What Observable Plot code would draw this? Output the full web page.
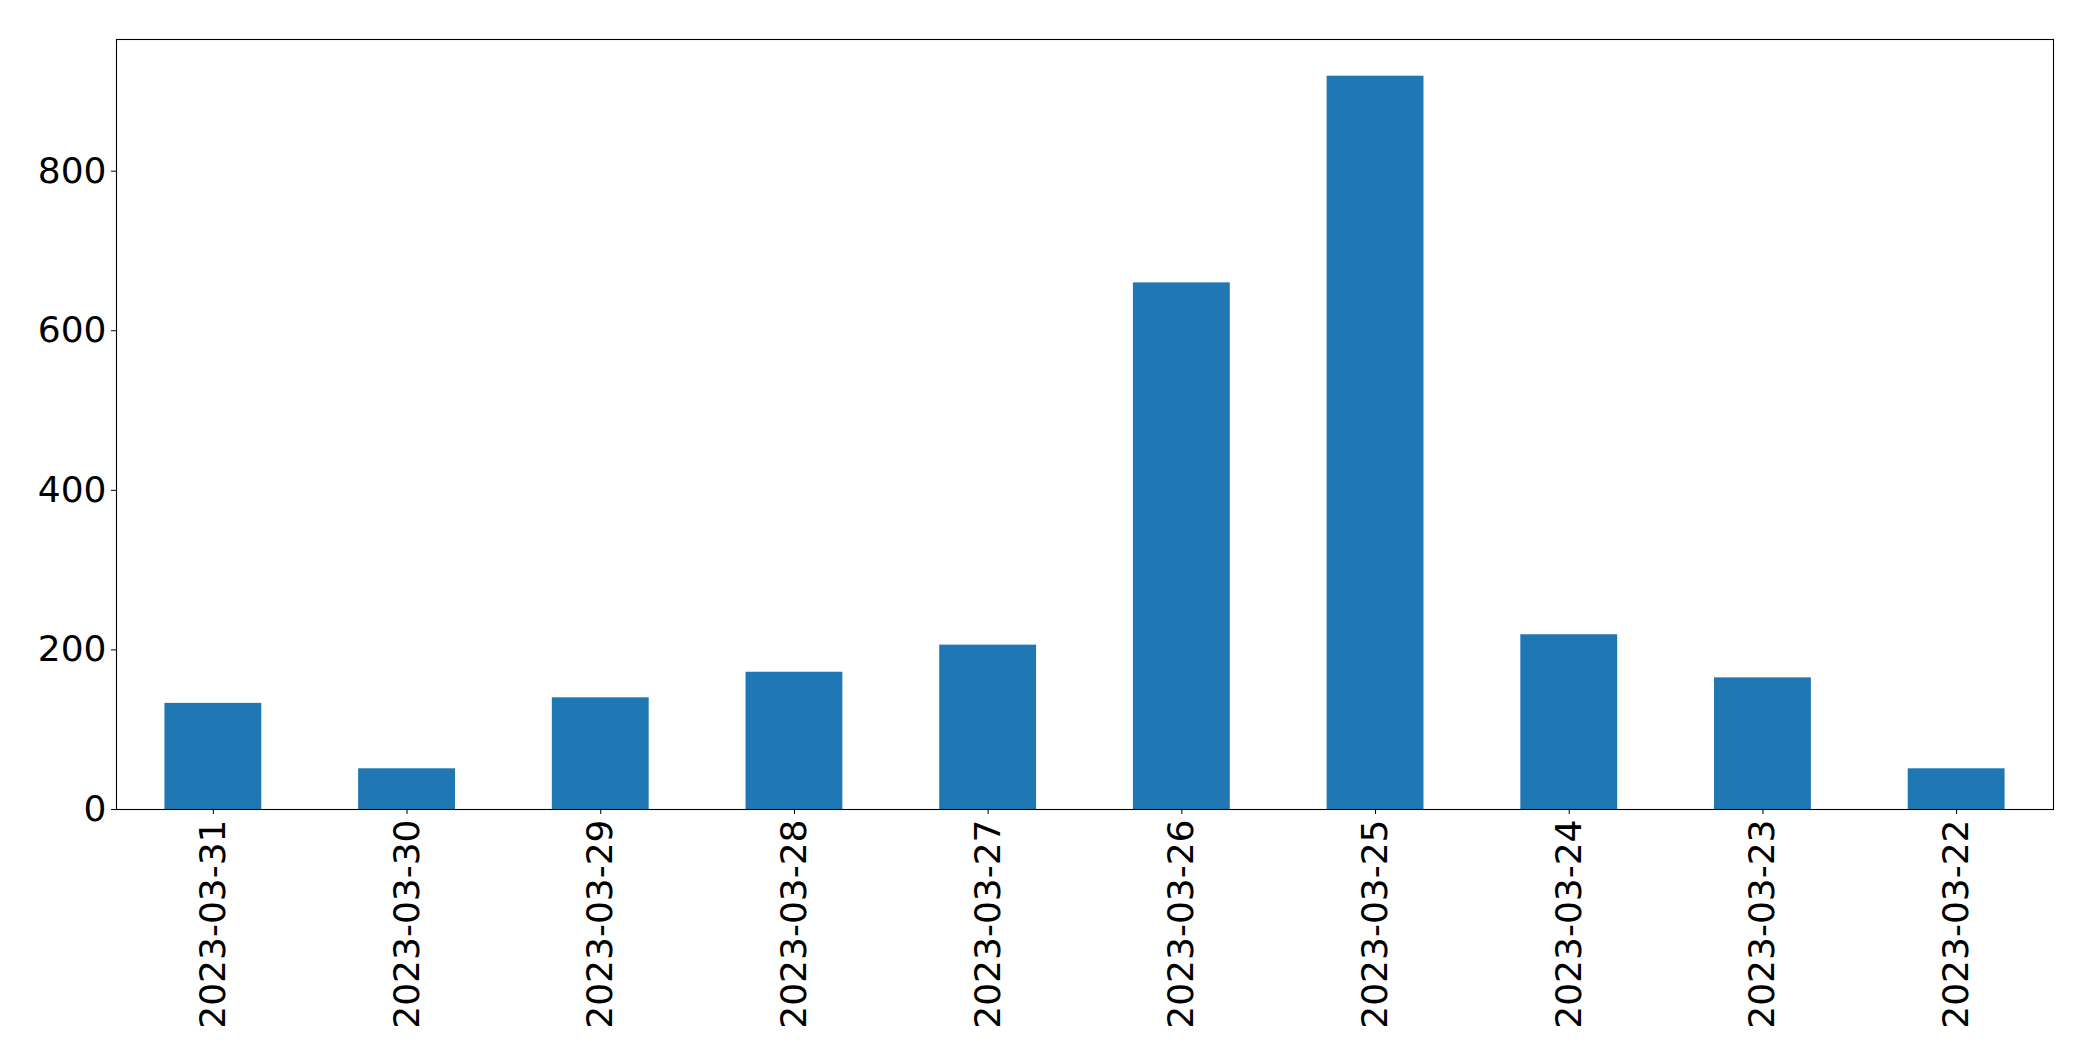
<!DOCTYPE html>
<html>
<head>
<meta charset="utf-8">
<script src="https://cdn.jsdelivr.net/npm/d3@7"></script>
<script src="https://cdn.jsdelivr.net/npm/@observablehq/plot@0.6"></script>
<style>
  html, body { margin: 0; padding: 0; background: white; }
  #chart svg { display: block; }
</style>
</head>
<body>
<div id="chart"></div>
<script>
const dates = ["2023-03-31", "2023-03-30", "2023-03-29", "2023-03-28", "2023-03-27",
               "2023-03-26", "2023-03-25", "2023-03-24", "2023-03-23", "2023-03-22"];
const counts = [133, 51, 140, 172, 206, 660, 919, 219, 165, 51];
const yTicks = [0, 200, 400, 600, 800];

const data = dates.map((d, i) => ({date: d, value: counts[i]}));

const chart = Plot.plot({
  width: 2093,
  height: 1061,
  marginLeft: 116,
  marginTop: 39,
  marginRight: 40,
  marginBottom: 252,
  style: {fontFamily: "'DejaVu Sans', sans-serif", fontSize: "36px", background: "white", color: "black"},
  x: {domain: dates, paddingInner: 0.5, paddingOuter: 0.25, round: false, label: null},
  y: {domain: [0, 965], label: null},
  marks: [
    Plot.barY(data, {x: "date", y: "value", fill: "#1f77b4"}),
    Plot.axisX({tickRotate: -90, tickSize: 5, tickPadding: 5, fontSize: 36, label: null, stroke: "black", fill: "black"}),
    Plot.axisY({ticks: yTicks, tickSize: 5, tickPadding: 5, fontSize: 36, label: null, stroke: "black", fill: "black"}),
    Plot.frame({stroke: "black", strokeWidth: 1.1})
  ]
});
document.getElementById("chart").appendChild(chart);
</script>
</body>
</html>
